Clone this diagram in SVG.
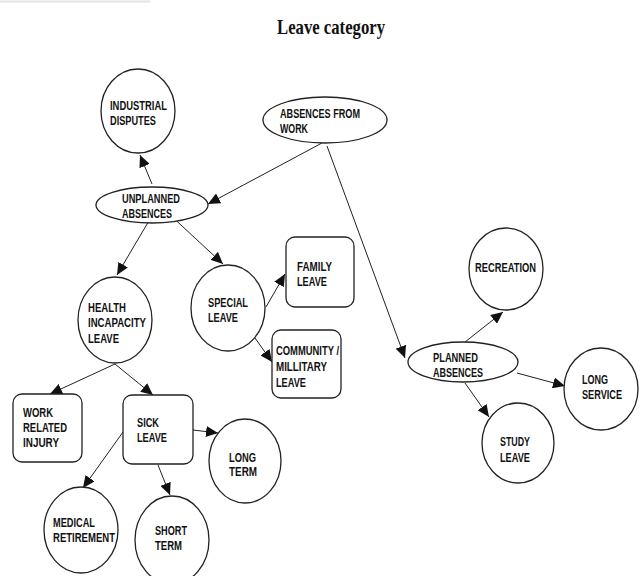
<svg xmlns="http://www.w3.org/2000/svg" width="640" height="576" viewBox="0 0 640 576">
<style>
.n{fill:#fff;stroke:#222;stroke-width:1.3}
.t{font-family:"Liberation Sans",Arial,sans-serif;font-weight:bold;font-size:13.5px;fill:#111}
.c line{stroke:#222;stroke-width:1;marker-end:url(#a)}
.title{font-family:"Liberation Serif","Times New Roman",serif;font-weight:bold;font-size:21px;fill:#111}
</style>
<defs>
<marker id="a" markerUnits="userSpaceOnUse" markerWidth="13" markerHeight="11" refX="12" refY="5.5" orient="auto">
<path d="M0,0 L12,5.5 L0,11 z" fill="#111"/>
</marker>
</defs>
<rect width="640" height="576" fill="#fff"/>
<line x1="0" y1="1.5" x2="150" y2="1.5" stroke="#e4e4e4" stroke-width="2"/>
<text class="title" x="277" y="34" textLength="108" lengthAdjust="spacingAndGlyphs">Leave category</text>

<g class="c" id="connectors">
<line x1="322" y1="143" x2="208" y2="204"/>
<line x1="152" y1="184" x2="140" y2="155"/>
<line x1="327" y1="146" x2="405" y2="358"/>
<line x1="150" y1="219" x2="117" y2="275"/>
<line x1="168" y1="213" x2="223" y2="264"/>
<line x1="266" y1="307" x2="285" y2="274"/>
<line x1="255" y1="338" x2="272" y2="362"/>
<line x1="115" y1="364" x2="50" y2="394"/>
<line x1="115" y1="364" x2="153" y2="395"/>
<line x1="193" y1="430" x2="218" y2="433"/>
<line x1="123" y1="432" x2="83" y2="488"/>
<line x1="158" y1="465" x2="170" y2="495"/>
<line x1="465" y1="342" x2="503" y2="312"/>
<line x1="517" y1="373" x2="565" y2="386"/>
<line x1="465" y1="383" x2="489" y2="417"/>
</g>

<g id="industrial-disputes">
<ellipse class="n" cx="138" cy="111" rx="37" ry="42"/>
<text class="t" x="110" y="110" textLength="57" lengthAdjust="spacingAndGlyphs">INDUSTRIAL</text>
<text class="t" x="110" y="125" textLength="46" lengthAdjust="spacingAndGlyphs">DISPUTES</text>
</g>

<g id="absences-from-work">
<ellipse class="n" cx="325" cy="120" rx="62" ry="23"/>
<text class="t" x="280" y="118" textLength="80" lengthAdjust="spacingAndGlyphs">ABSENCES FROM</text>
<text class="t" x="280" y="133" textLength="28" lengthAdjust="spacingAndGlyphs">WORK</text>
</g>

<g id="unplanned-absences">
<ellipse class="n" cx="152" cy="205" rx="56" ry="18"/>
<text class="t" x="122" y="203" textLength="58" lengthAdjust="spacingAndGlyphs">UNPLANNED</text>
<text class="t" x="122" y="218" textLength="50" lengthAdjust="spacingAndGlyphs">ABSENCES</text>
</g>

<g id="health-incapacity-leave">
<ellipse class="n" cx="115" cy="320" rx="37" ry="43"/>
<text class="t" x="88" y="312" textLength="38" lengthAdjust="spacingAndGlyphs">HEALTH</text>
<text class="t" x="88" y="327" textLength="58" lengthAdjust="spacingAndGlyphs">INCAPACITY</text>
<text class="t" x="88" y="343" textLength="31" lengthAdjust="spacingAndGlyphs">LEAVE</text>
</g>

<g id="special-leave">
<ellipse class="n" cx="228" cy="308" rx="37" ry="43"/>
<text class="t" x="208" y="307" textLength="40" lengthAdjust="spacingAndGlyphs">SPECIAL</text>
<text class="t" x="208" y="322" textLength="30" lengthAdjust="spacingAndGlyphs">LEAVE</text>
</g>

<g id="family-leave">
<rect class="n" x="286" y="237" width="68" height="70" rx="9"/>
<text class="t" x="297" y="271" textLength="35" lengthAdjust="spacingAndGlyphs">FAMILY</text>
<text class="t" x="297" y="286" textLength="30" lengthAdjust="spacingAndGlyphs">LEAVE</text>
</g>

<g id="community-military-leave">
<rect class="n" x="272" y="330" width="69" height="68" rx="9"/>
<text class="t" x="276" y="355" textLength="63" lengthAdjust="spacingAndGlyphs">COMMUNITY /</text>
<text class="t" x="276" y="371" textLength="51" lengthAdjust="spacingAndGlyphs">MILLITARY</text>
<text class="t" x="276" y="387" textLength="30" lengthAdjust="spacingAndGlyphs">LEAVE</text>
</g>

<g id="work-related-injury">
<rect class="n" x="13" y="394" width="69" height="68" rx="9"/>
<text class="t" x="23" y="417" textLength="30" lengthAdjust="spacingAndGlyphs">WORK</text>
<text class="t" x="23" y="432" textLength="44" lengthAdjust="spacingAndGlyphs">RELATED</text>
<text class="t" x="23" y="447" textLength="36" lengthAdjust="spacingAndGlyphs">INJURY</text>
</g>

<g id="sick-leave">
<rect class="n" x="123" y="395" width="70" height="69" rx="9"/>
<text class="t" x="137" y="427" textLength="22" lengthAdjust="spacingAndGlyphs">SICK</text>
<text class="t" x="137" y="442" textLength="30" lengthAdjust="spacingAndGlyphs">LEAVE</text>
</g>

<g id="long-term">
<ellipse class="n" cx="245" cy="461" rx="36" ry="42"/>
<text class="t" x="229" y="462" textLength="27" lengthAdjust="spacingAndGlyphs">LONG</text>
<text class="t" x="229" y="476" textLength="28" lengthAdjust="spacingAndGlyphs">TERM</text>
</g>

<g id="medical-retirement">
<ellipse class="n" cx="81" cy="530" rx="37" ry="43"/>
<text class="t" x="53" y="527" textLength="42" lengthAdjust="spacingAndGlyphs">MEDICAL</text>
<text class="t" x="53" y="542" textLength="62" lengthAdjust="spacingAndGlyphs">RETIREMENT</text>
</g>

<g id="short-term">
<ellipse class="n" cx="172" cy="540" rx="37" ry="44"/>
<text class="t" x="155" y="535" textLength="32" lengthAdjust="spacingAndGlyphs">SHORT</text>
<text class="t" x="155" y="550" textLength="27" lengthAdjust="spacingAndGlyphs">TERM</text>
</g>

<g id="recreation">
<ellipse class="n" cx="506" cy="269" rx="37" ry="41"/>
<text class="t" x="475" y="272" textLength="61" lengthAdjust="spacingAndGlyphs">RECREATION</text>
</g>

<g id="planned-absences">
<ellipse class="n" cx="463" cy="362" rx="55" ry="20"/>
<text class="t" x="433" y="362" textLength="45" lengthAdjust="spacingAndGlyphs">PLANNED</text>
<text class="t" x="433" y="377" textLength="50" lengthAdjust="spacingAndGlyphs">ABSENCES</text>
</g>

<g id="long-service">
<ellipse class="n" cx="601" cy="389" rx="37" ry="41"/>
<text class="t" x="582" y="384" textLength="26" lengthAdjust="spacingAndGlyphs">LONG</text>
<text class="t" x="582" y="399" textLength="40" lengthAdjust="spacingAndGlyphs">SERVICE</text>
</g>

<g id="study-leave">
<ellipse class="n" cx="518" cy="443" rx="36" ry="40"/>
<text class="t" x="500" y="446" textLength="30" lengthAdjust="spacingAndGlyphs">STUDY</text>
<text class="t" x="500" y="462" textLength="30" lengthAdjust="spacingAndGlyphs">LEAVE</text>
</g>
</svg>
